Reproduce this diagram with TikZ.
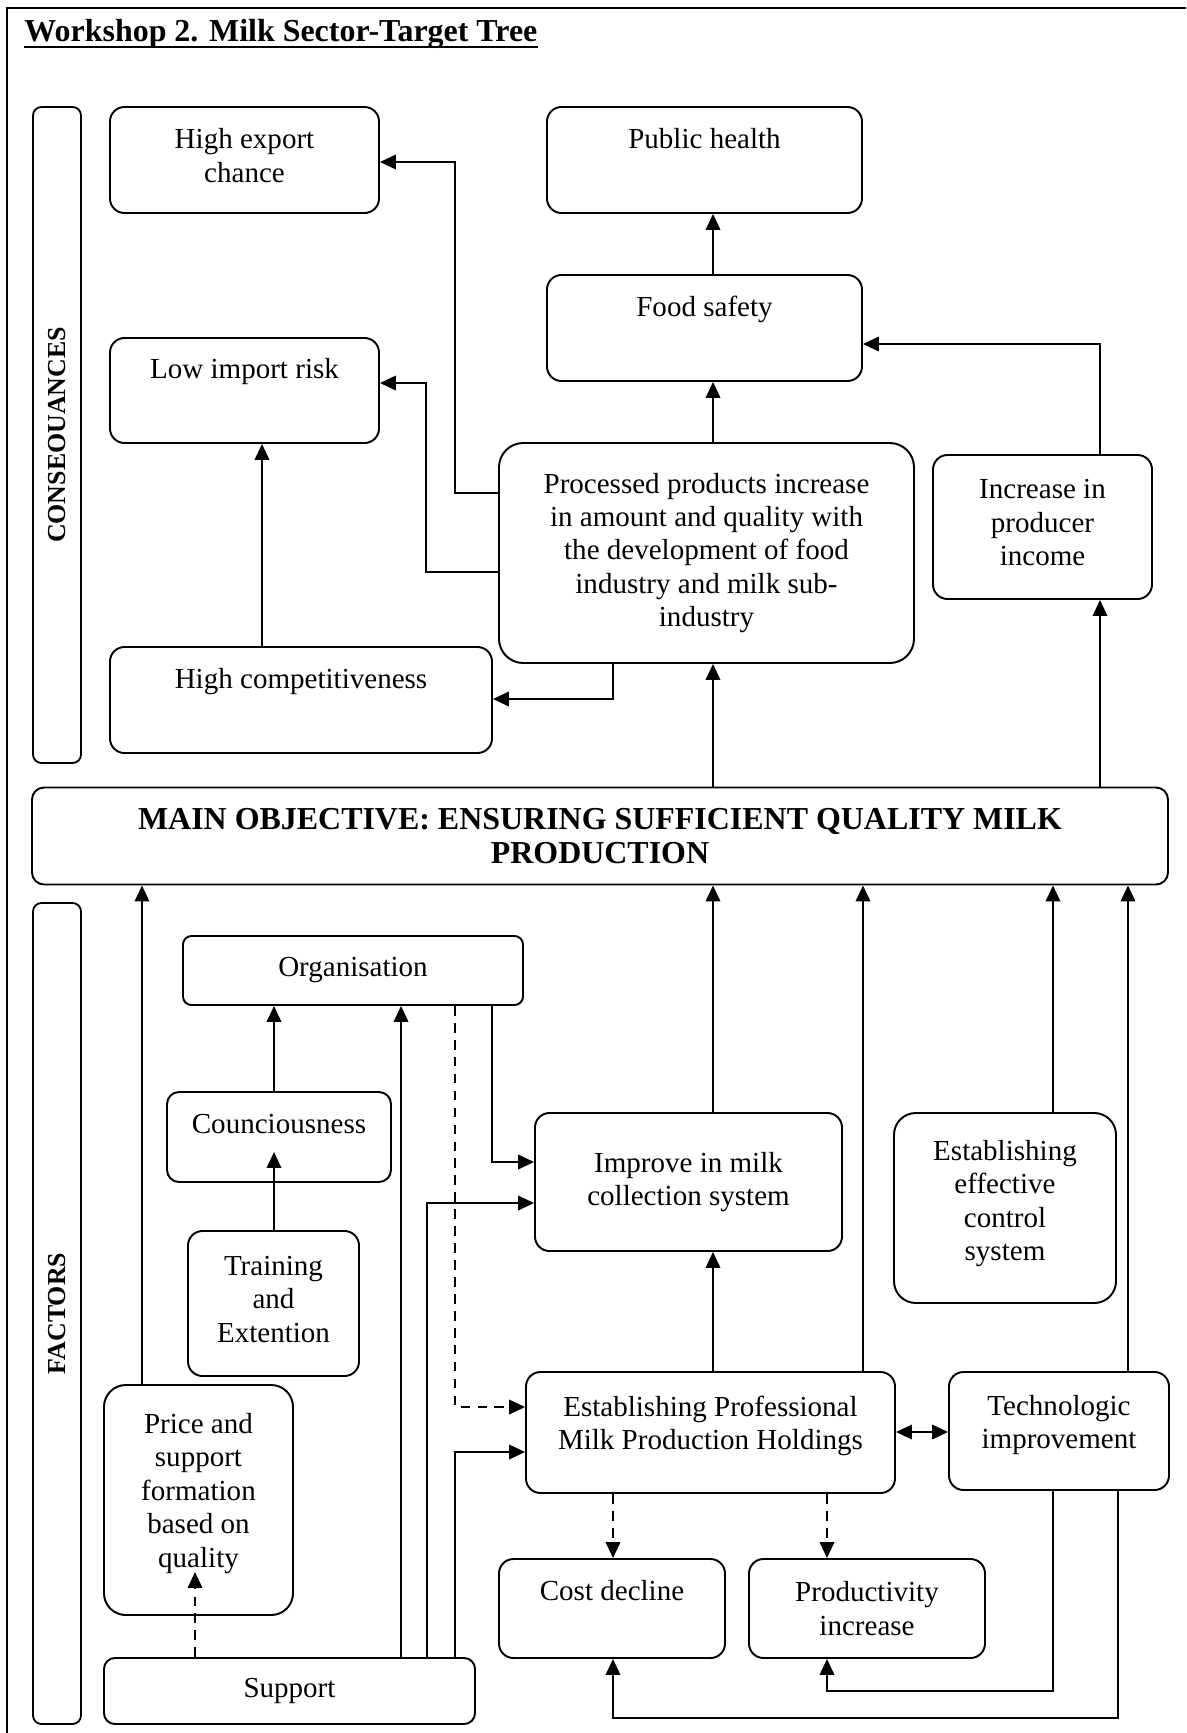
\documentclass[tikz,border=0pt]{standalone}
\usepackage{fontspec}
\setmainfont{Liberation Serif}
\usetikzlibrary{arrows.meta}
\newcommand\pxu{0.4132pt}
\begin{document}
\begin{tikzpicture}[x=0.4132pt, y=-0.4132pt,
  every node/.style={font=\fontsize{12}{13.8}\selectfont},
  box/.style 2 args={draw, line width=0.8pt, rounded corners=6pt, align=center,
    inner sep=0pt, minimum width=#1*\pxu, minimum height=#2*\pxu},
  bar/.style 2 args={draw, line width=0.75pt, rounded corners=3.5pt, rotate=90,
    inner sep=0pt, minimum width=#2*\pxu, minimum height=#1*\pxu,
    font=\bfseries\fontsize{10.7}{12}\selectfont},
  tip/.style={Triangle[length=6.6pt,width=6pt]},
  arr/.style={line width=0.85pt, -{Triangle[length=6.6pt,width=6pt]}},
  dasharr/.style={arr, dash pattern=on 4pt off 3pt},
  biarr/.style={line width=0.85pt, {Triangle[length=6.6pt,width=6pt]}-{Triangle[length=6.6pt,width=6pt]}}]

\useasboundingbox (0,0) rectangle (1186,1733);

% page frame (top and left rules)
\draw[line width=0.9pt] (7,1733) -- (7,8) -- (1186,8);

% title
\node[anchor=base west, inner sep=0pt, font=\bfseries\fontsize{13.2}{15}\selectfont]
  (title) at (24,41) {Workshop 2. Milk Sector-Target Tree};
\draw[line width=1pt] ([yshift=-2.4pt]title.base west) -- ([yshift=-2.4pt]title.base east);

% side bars
\node[bar={48}{656}] (consbar) at (57,435) {CONSEOUANCES};
\node[bar={48}{821}] (factbar) at (57,1313.5) {FACTORS};

% consequences
\node[box={269}{106}] (highexport) at (244.5,160) {High export\\chance\\[-14.3pt]\strut};
\node[box={315}{106}] (publichealth) at (704.5,160) {Public health\\ \strut};
\node[box={315}{106}] (foodsafety) at (704.5,328) {Food safety\\ \strut};
\node[box={269}{105}] (lowimport) at (244.5,390.5) {Low import risk\\ \strut};
\node[box={382}{106}] (highcomp) at (301,700) {High competitiveness\\ \strut};
\node[box={415}{220}, rounded corners=10pt] (processed) at (706.5,553)
  {Processed products increase\\in amount and quality with\\the development of food\\industry and milk sub-\\industry};
\node[box={219}{144}] (incincome) at (1042.5,527) {Increase in\\producer\\income\\[-14.3pt]\strut};

% main objective
\node[box={1136}{97}, rounded corners=5pt, font=\bfseries\fontsize{13.2}{14.2}\selectfont]
  (main) at (600,836) {MAIN OBJECTIVE: ENSURING SUFFICIENT QUALITY MILK\\PRODUCTION};

% factors
\node[box={340}{69}, rounded corners=3.5pt] (organisation) at (353,970.5) {Organisation};
\node[box={224}{90}, rounded corners=5pt] (councious) at (279,1137) {Counciousness\\[-7pt]\strut};
\node[box={171}{145}] (training) at (273.5,1303.5) {Training\\and\\Extention\\[-14.3pt]\strut};
\node[box={189}{230}, rounded corners=9pt] (price) at (198.5,1500)
  {Price and\\support\\formation\\based on\\quality\\[-9.8pt]\strut};
\node[box={371}{66}, rounded corners=4.5pt] (support) at (289.5,1691) {Support};
\node[box={307}{138}] (improve) at (688.5,1182) {Improve in milk\\collection system};
\node[box={222}{190}, rounded corners=9pt] (control) at (1005,1208)
  {Establishing\\effective\\control\\system\\[-11.7pt]\strut};
\node[box={369}{121}] (estab) at (710.5,1432.5)
  {Establishing Professional\\Milk Production Holdings\\[-10pt]\strut};
\node[box={220}{118}] (tech) at (1059,1431) {Technologic\\improvement\\[-10.5pt]\strut};
\node[box={226}{99}] (cost) at (612,1608.5) {Cost decline\\[-3pt]\strut};
\node[box={236}{99}] (product) at (867,1608.5) {Productivity\\increase};

% free ends of the arrows that stop inside a box
\coordinate (councin) at (274,1152);
\coordinate (pricein) at (195,1572);

% connectors among the consequences
\draw[arr] (processed.west |- 0,493) -| (455,162) -- (highexport.east |- 0,162);
\draw[arr] (processed.west |- 0,572) -| (426,383) -- (lowimport.east |- 0,383);
\draw[arr] (processed.south -| 613,0) |- (highcomp.east |- 0,699);
\draw[arr] (highcomp.north -| 262,0) -- (lowimport.south -| 262,0);
\draw[arr] (processed.north -| 713,0) -- (foodsafety.south -| 713,0);
\draw[arr] (foodsafety.north -| 713,0) -- (publichealth.south -| 713,0);
\draw[arr] (incincome.north -| 1100,0) |- (foodsafety.east |- 0,344);
\draw[arr] (main.north -| 713,0) -- (processed.south -| 713,0);
\draw[arr] (main.north -| 1100,0) -- (incincome.south -| 1100,0);

% connectors among the factors
\draw[arr] (price.north -| 142,0) -- (main.south -| 142,0);
\draw[arr] (councious.north -| 274,0) -- (organisation.south -| 274,0);
\draw[arr] (training.north -| 274,0) -- (councin);
\draw[arr] (support.north -| 401,0) -- (organisation.south -| 401,0);
\draw[arr] (organisation.south -| 492,0) |- (improve.west |- 0,1162);
\draw[arr] (support.north -| 427,0) |- (improve.west |- 0,1203);
\draw[dasharr] (organisation.south -| 455,0) |- (estab.west |- 0,1407);
\draw[arr] (support.north -| 455,0) |- (estab.west |- 0,1452);
\draw[dasharr] (support.north -| 195,0) -- (pricein);
\draw[arr] (improve.north -| 713,0) -- (main.south -| 713,0);
\draw[arr] (estab.north -| 713,0) -- (improve.south -| 713,0);
\draw[arr] (estab.north -| 863,0) -- (main.south -| 863,0);
\draw[arr] (control.north -| 1053,0) -- (main.south -| 1053,0);
\draw[arr] (tech.north -| 1128,0) -- (main.south -| 1128,0);
\draw[biarr] (estab.east |- 0,1432) -- (tech.west |- 0,1432);
\draw[dasharr] (estab.south -| 613,0) -- (cost.north -| 613,0);
\draw[dasharr] (estab.south -| 827,0) -- (product.north -| 827,0);
\draw[arr] (tech.south -| 1053,0) |- (827,1691) -- (product.south -| 827,0);
\draw[arr] (tech.south -| 1118,0) |- (613,1718) -- (cost.south -| 613,0);
\end{tikzpicture}
\end{document}
